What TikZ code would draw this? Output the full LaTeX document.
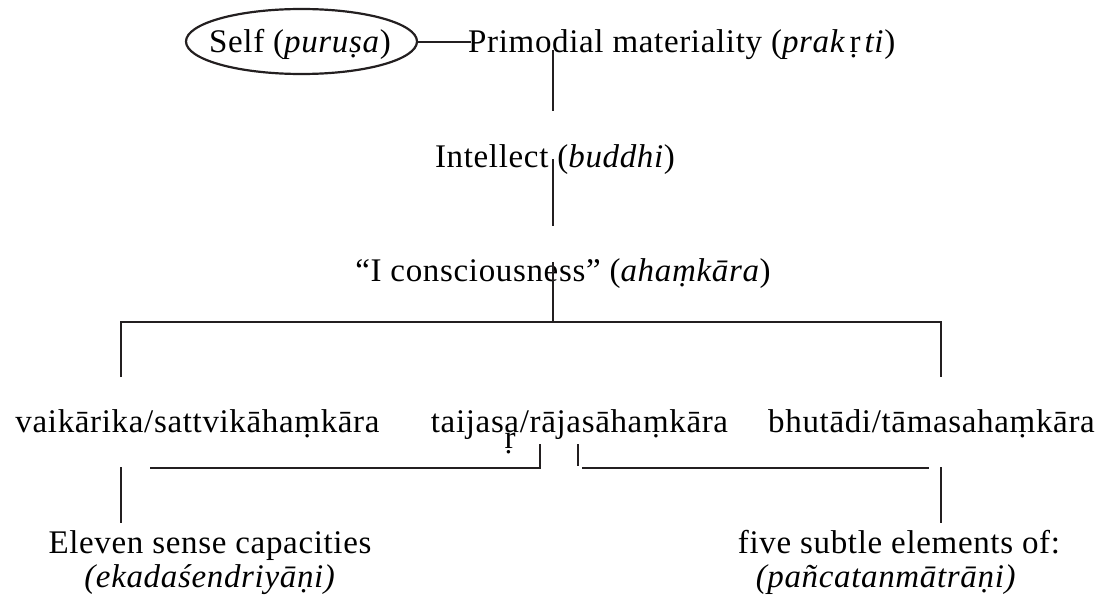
\documentclass[tikz,border=0pt]{standalone}
\usepackage{fontspec}
\setmainfont{Liberation Serif}[LetterSpace=2]
\definecolor{ink}{HTML}{231F20}
\begin{document}
\begin{tikzpicture}[x=1pt,y=-1pt,
  txt/.style={font=\fontsize{33}{39}\selectfont, inner sep=0pt, anchor=base, text=black},
  ln/.style={line width=2.4pt, draw=ink},
  oval/.style={line width=2.2pt, draw=ink}]
\useasboundingbox (0,0) rectangle (1107,607);
% nodes
\node[txt] (self) at (300,53) {Self (\textit{puruṣa})};
\node[txt, anchor=base west] (prak) at (468,53) {Primodial materiality (\textit{prak}\hspace{4pt}ṛ\hspace{4pt}\textit{ti})};
\node[txt] (buddhi) at (555,167) {Intellect (\textit{buddhi})};
\node[txt] (aham) at (563,281) {“I consciousness” (\textit{ahaṃkāra})};
\node[txt] (vai) at (197.5,432) {vaikārika/sattvikāhaṃkāra};
\node[txt] (tai) at (579.5,432) {taijasa/rājasāhaṃkāra};
\node[txt] (bhu) at (931.5,432) {bhutādi/tāmasahaṃkāra};
\node[txt] (stray) at (510,448) {ṛ};
\node[txt] (eleven) at (210,553) {Eleven sense capacities};
\node[txt] (eka) at (210,587) {\textit{(ekadaśendriyāṇi)}};
\node[txt] (five) at (899,553) {five subtle elements of:};
\node[txt] (panca) at (886,587) {\textit{(pañcatanmātrāṇi)}};
% oval round the self
\coordinate (oc) at (301.5,41.5);
\draw[oval] (oc) ellipse [x radius=115.5pt, y radius=32.5pt];
% coordinates
\coordinate (se) at (417,42);
\coordinate (sp) at ([xshift=3pt]prak.west |- se);
\coordinate (pa) at (553,50);
\coordinate (pb) at (553,111);
\coordinate (ba) at (553,159);
\coordinate (bb) at (553,226);
\coordinate (aa) at (553,262);
\coordinate (ab) at (553,322);
\coordinate (hl) at (121,322);
\coordinate (hr) at (941,322);
\coordinate (vl) at (121,377);
\coordinate (vr) at (941,377);
\coordinate (ll) at (150,468);
\coordinate (lr) at (540,468);
\coordinate (lt) at (540,444);
\coordinate (rt) at (578,444);
\coordinate (rb) at (578,466);
\coordinate (rl) at (582,468);
\coordinate (rr) at (929,468);
\coordinate (ea) at (121,467);
\coordinate (eb) at (121,523);
\coordinate (fa) at (941,467);
\coordinate (fb) at (941,523);
% connectors
\draw[ln] (se) -- (sp);
\draw[ln] (pa) -- (pb);
\draw[ln] (ba) -- (bb);
\draw[ln] (aa) -- (ab);
\draw[ln] (vl) -- (hl) -- (hr) -- (vr);
\draw[ln] (ll) -- (lr) -- (lt);
\draw[ln] (rt) -- (rb);
\draw[ln] (rl) -- (rr);
\draw[ln] (ea) -- (eb);
\draw[ln] (fa) -- (fb);
\end{tikzpicture}
\end{document}
